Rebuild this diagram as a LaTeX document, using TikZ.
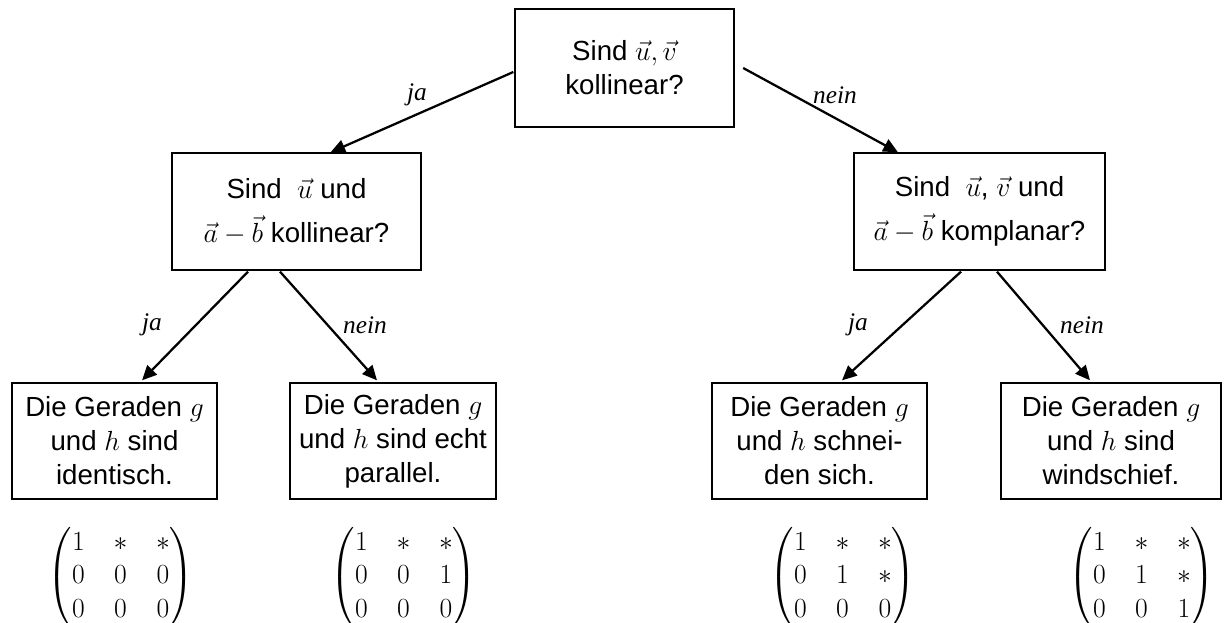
\documentclass[tikz,border=0pt]{standalone}
\usepackage{amsmath}
\usepackage[no-math]{fontspec}
\setmainfont{Liberation Sans}
\newfontfamily\lblfont{Liberation Serif}
\usetikzlibrary{calc,arrows.meta}
\begin{document}
\begin{tikzpicture}[x=0.75pt,y=-0.75pt,
  box/.style={draw, line width=1pt, inner sep=0pt, align=center,
    font=\fontsize{20.74}{25.5}\selectfont},
  arr/.style={line width=1.7pt, -{Triangle[length=11pt,width=10pt]}},
  lbl/.style={font=\lblfont\itshape\fontsize{19}{22}\selectfont, inner sep=0pt},
  mat/.style={inner sep=0pt, font=\fontsize{20.74}{25}\selectfont}]
\useasboundingbox (0,0) rectangle (1227,623);
\setlength\arraycolsep{10.8pt}

\node[box, minimum width=219*0.75pt, minimum height=118*0.75pt] (top) at (624.5,68)
  {Sind $\vec{u},\vec{v}$\\kollinear?};
\node[box, minimum width=249*0.75pt, minimum height=117*0.75pt] (midL) at (296.5,211.5)
  {Sind \ $\vec{u}$ und\\[8pt]$\vec{a}-\vec{b}$ kollinear?};
\node[box, minimum width=251*0.75pt, minimum height=117*0.75pt] (midR) at (979.5,211.5)
  {Sind \ $\vec{u}$, $\vec{v}$ und\\[8pt]$\vec{a}-\vec{b}$ komplanar?};

\node[box, minimum width=205*0.75pt, minimum height=116*0.75pt] (leafA) at (114.5,441)
  {Die Geraden $g$\\und $h$ sind\\identisch.};
\node[box, minimum width=206*0.75pt, minimum height=116*0.75pt] (leafB) at (393,441)
  {Die Geraden $g$\\und $h$ sind echt\\parallel.};
\node[box, minimum width=215*0.75pt, minimum height=116*0.75pt] (leafC) at (819.5,441)
  {Die Geraden $g$\\und $h$ schnei-\\den sich.};
\node[box, minimum width=220*0.75pt, minimum height=116*0.75pt] (leafD) at (1111,441)
  {Die Geraden $g$\\und $h$ sind\\windschief.};

\node[mat] (matA) at (121,577) {$\begin{pmatrix}1&\ast&\ast\\0&0&0\\0&0&0\end{pmatrix}$};
\node[mat] (matB) at (404,577) {$\begin{pmatrix}1&\ast&\ast\\0&0&1\\0&0&0\end{pmatrix}$};
\node[mat] (matC) at (843,577) {$\begin{pmatrix}1&\ast&\ast\\0&1&\ast\\0&0&0\end{pmatrix}$};
\node[mat] (matD) at (1142,577) {$\begin{pmatrix}1&\ast&\ast\\0&1&\ast\\0&0&1\end{pmatrix}$};

\draw[arr] ($(top.west)+(-1,4)$) -- ($(midL.north)+(34,0)$);
\draw[arr] ($(top.east)+(8.5,0)$) -- ($(midR.north)+(-81.5,0)$);
\draw[arr] ($(midL.south)+(-48.5,1)$) -- ($(leafA.north)+(27.5,-2)$);
\draw[arr] ($(midL.south)+(-16.5,1)$) -- ($(leafB.north)+(-16,-2)$);
\draw[arr] ($(midR.south)+(-18.5,1)$) -- ($(leafC.north)+(22.5,-2)$);
\draw[arr] ($(midR.south)+(17.5,1)$) -- ($(leafD.north)+(-21,-2)$);

\node[lbl] (l1) at (417,95) {ja};
\node[lbl] (l2) at (835,95) {nein};
\node[lbl] (l3) at (152,325) {ja};
\node[lbl] (l4) at (365,325) {nein};
\node[lbl] (l5) at (858,325) {ja};
\node[lbl] (l6) at (1082,325) {nein};
\end{tikzpicture}
\end{document}
